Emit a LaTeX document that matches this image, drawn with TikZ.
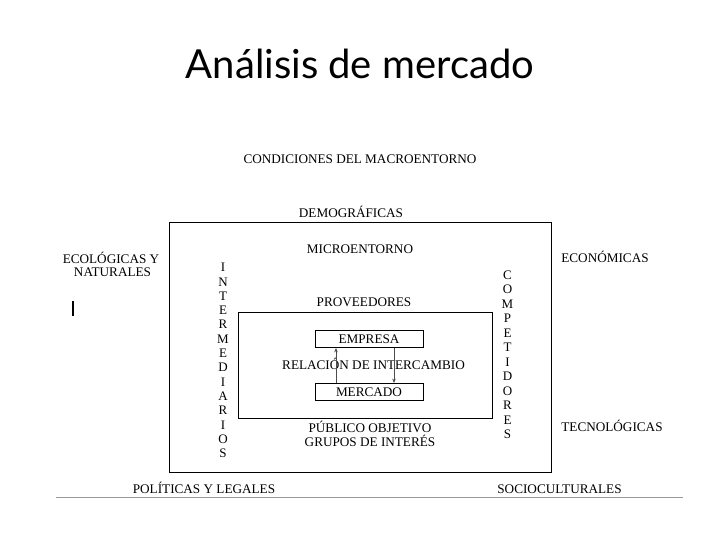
\documentclass[tikz,border=0pt]{standalone}
\usepackage{fontspec}
\setmainfont{Liberation Serif}
\newfontfamily\titlefont{Lato}
\usetikzlibrary{arrows.meta}
\tikzset{
  lbl/.style={inner sep=0pt, anchor=base, font=\fontsize{13.2}{14}\selectfont},
  vlbl/.style={inner sep=0pt, align=center, font=\fontsize{13}{14.3}\selectfont},
  frame/.style={draw=black, line width=1pt},
  smallbox/.style={draw=black, line width=0.8pt, minimum width=108pt, minimum height=17pt, inner sep=0pt, font=\fontsize{13.2}{14}\selectfont},
  flow/.style={draw=black!70, line width=0.8pt, -{Stealth[length=4.5pt,width=3.5pt]}}
}
\begin{document}
\begin{tikzpicture}[x=1pt,y=-1pt]
\useasboundingbox (0,0) rectangle (720,540);
\fill[white] (0,0) rectangle (720,540);
% title
\node[inner sep=0pt, anchor=base, font=\titlefont\fontsize{40}{42}\selectfont] (title) at (360,79) {Análisis de mercado};
% frames
\draw[frame] (169,223) rectangle (551,472);
\draw[frame] (238,312) rectangle (492,418);
% macro labels
\node[lbl] (cond) at (360,163.5) {CONDICIONES DEL MACROENTORNO};
\node[lbl] (demo) at (351,218) {DEMOGRÁFICAS};
\node[lbl] (micro) at (360,253.5) {MICROENTORNO};
\node[lbl] (eco1) at (111,263.5) {ECOLÓGICAS Y};
\node[lbl] (eco2) at (112.5,276.5) {NATURALES};
\node[lbl] (econ) at (605,262.5) {ECONÓMICAS};
\node[lbl] (tecn) at (612,431.5) {TECNOLÓGICAS};
\node[lbl] (poli) at (204,493.5) {POLÍTICAS Y LEGALES};
\node[lbl] (soci) at (559.5,493.5) {SOCIOCULTURALES};
% cursor bar
\draw[black, line width=2pt] (73,301) -- (73,316);
% vertical labels
\node[vlbl] (inter) at (223,360.5) {I\\N\\T\\E\\R\\M\\E\\D\\I\\A\\R\\I\\O\\S};
\node[vlbl, font=\fontsize{13}{14.5}\selectfont] (comp) at (507.5,355) {C\\O\\M\\P\\E\\T\\I\\D\\O\\R\\E\\S};
% inner
\node[lbl] (prov) at (364,306.5) {PROVEEDORES};
\node[smallbox] (emp) at (369,339) {EMPRESA};
\node[smallbox] (merc) at (369,392) {MERCADO};
\node[lbl] (rel) at (373.5,369.5) {RELACIÓN DE INTERCAMBIO};
\draw[flow] (merc.north -| 336,0) -- (emp.south -| 336,0);
\draw[flow] (emp.south -| 394,0) -- (merc.north -| 394,0);
\node[lbl] (pub1) at (370,432.5) {PÚBLICO OBJETIVO};
\node[lbl] (pub2) at (370,446.5) {GRUPOS DE INTERÉS};
% bottom rule
\coordinate (l1) at (56,497);
\coordinate (l2) at (683,497);
\draw[gray!80, line width=1pt] (l1) -- (l2);
\end{tikzpicture}
\end{document}
